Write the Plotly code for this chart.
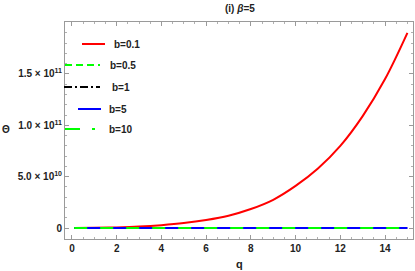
import plotly.graph_objects as go

# ---- data ----
q = [0.1, 1, 2, 3, 4, 5, 6, 7, 8, 9, 10, 11, 12, 13, 14, 15]
theta_b01 = [0, 0.015e10, 0.06e10, 0.14e10, 0.28e10, 0.48e10, 0.78e10, 1.2e10,
             1.85e10, 2.75e10, 4.1e10, 5.8e10, 8.0e10, 10.9e10, 14.5e10, 19.0e10]
theta_b05 = [0] * len(q)
theta_b1 = [0] * len(q)
theta_b5 = [0] * len(q)
theta_b10 = [0] * len(q)

series_names = ["b=0.1", "b=0.5", "b=1", "b=5", "b=10"]
ytick_vals = [0, 5e10, 1e11, 1.5e11]
ytick_text = ["0", "5.0 × 10<sup>10</sup>", "1.0 × 10<sup>11</sup>", "1.5 × 10<sup>11</sup>"]
xtick_vals = [0, 2, 4, 6, 8, 10, 12, 14]

RED, GREEN, BLACK, BLUE = "#ff0000", "#00ff00", "#000000", "#0000ff"
FONT = "Liberation Sans"
TXT = "#222222"

fig = go.Figure()
fig.add_trace(go.Scatter(x=q, y=theta_b01, mode="lines", name=series_names[0],
                         line=dict(color=RED, width=2, shape="spline")))
fig.add_trace(go.Scatter(x=q, y=theta_b05, mode="lines", name=series_names[1],
                         line=dict(color=GREEN, width=2, dash="8px,4px")))
fig.add_trace(go.Scatter(x=q, y=theta_b1, mode="lines", name=series_names[2],
                         line=dict(color=BLACK, width=2, dash="dashdot")))
fig.add_trace(go.Scatter(x=q, y=theta_b5, mode="lines", name=series_names[3],
                         line=dict(color=BLUE, width=2)))
fig.add_trace(go.Scatter(x=q, y=theta_b10, mode="lines", name=series_names[4],
                         line=dict(color=GREEN, width=2, dash="13px,13px")))

FW, FH = 415, 271
# plot-area edges in pixels
L, R, T, B = 65, 413, 22, 239
W, H = R - L, B - T


def px(x):
    return (x - L) / W


def py(y):
    return (B - y) / H


# manual legend (Mathematica-style placement), pixel positions
legend_items = [
    (RED, "solid", 82, 105, 44, 112),
    (GREEN, "7px,4px", 65, 100, 65, 108),
    (BLACK, "8px,3px,2px,3px", 64, 100, 87, 110),
    (BLUE, "solid", 78, 101, 109, 107),
    (GREEN, "15px,12px", 65, 95, 129, 107),
]
shapes = []
annotations = []
for (col, dash, x0, x1, yy, tx), name in zip(legend_items, series_names):
    shapes.append(dict(type="line", xref="paper", yref="paper",
                       x0=px(x0), x1=px(x1), y0=py(yy), y1=py(yy),
                       line=dict(color=col, width=2, dash=dash)))
    annotations.append(dict(xref="paper", yref="paper", x=px(tx), y=py(yy),
                            xanchor="left", yanchor="middle", text=name, showarrow=False,
                            font=dict(family=FONT, size=10, color=TXT, weight="bold")))

annotations.append(dict(xref="paper", yref="paper", x=px(6), y=py(129), text="Θ",
                        showarrow=False, xanchor="center", yanchor="middle",
                        font=dict(family=FONT, size=10, color=TXT, weight="bold")))
annotations.append(dict(xref="paper", yref="paper", x=px(239), y=py(264), text="q",
                        showarrow=False, xanchor="center", yanchor="middle",
                        font=dict(family=FONT, size=11, color=TXT, weight="bold")))
annotations.append(dict(xref="paper", yref="paper", x=px(240), y=py(8), text="(i) <i>β</i>=5",
                        showarrow=False, xanchor="center", yanchor="middle",
                        font=dict(family=FONT, size=10, color=TXT, weight="bold")))

axis_common = dict(showgrid=False, zeroline=False, showline=True, linecolor="#9a9a9a",
                   linewidth=1, mirror="ticks", ticks="inside", ticklen=4,
                   tickcolor="#9a9a9a", tickwidth=1,
                   tickfont=dict(family=FONT, size=10, color=TXT, weight="bold"))

fig.update_layout(
    width=FW, height=FH,
    margin=dict(l=L, r=FW - R, t=T, b=FH - B),
    paper_bgcolor="white", plot_bgcolor="white",
    showlegend=False,
    shapes=shapes, annotations=annotations,
    xaxis=dict(range=[-0.31, 15.25], tickvals=xtick_vals,
               minor=dict(dtick=0.5, tick0=0, ticks="inside", ticklen=2, tickcolor="#b0b0b0"),
               **axis_common),
    yaxis=dict(range=[-1.07e10, 2.006e11], tickvals=ytick_vals, ticktext=ytick_text,
               minor=dict(dtick=1e10, tick0=0, ticks="inside", ticklen=2, tickcolor="#b0b0b0"),
               **axis_common),
)

# remove the page's default 8px body margin so the figure sits at the window origin
fig.write_html("out.html",
               config={"displayModeBar": False},
               post_script="document.body.style.margin='0';document.body.style.overflow='hidden';")
